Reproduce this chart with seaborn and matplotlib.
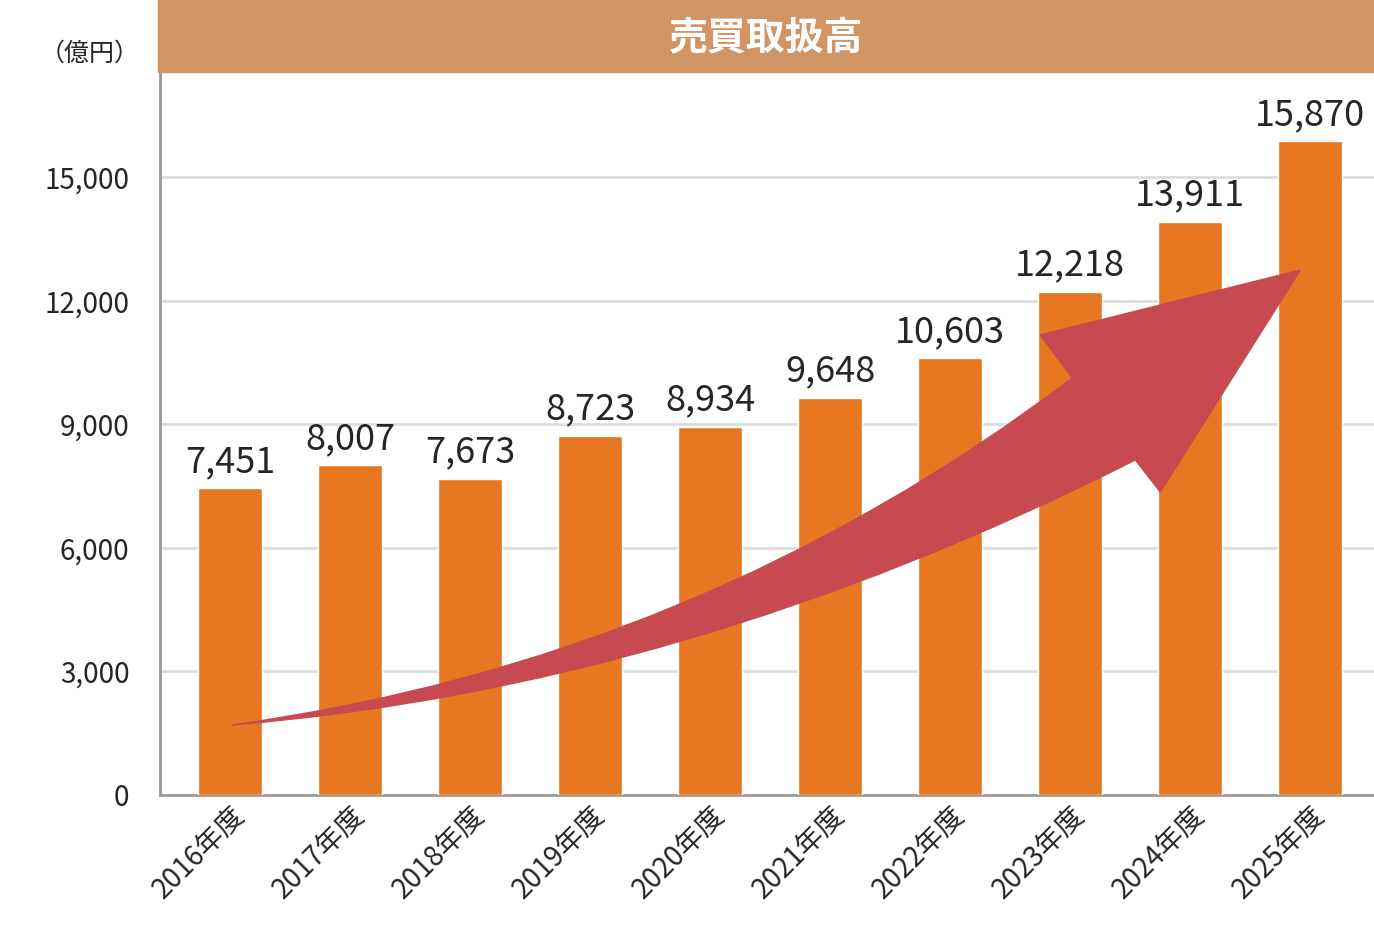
import matplotlib
matplotlib.use("Agg")
import matplotlib.pyplot as plt
import seaborn as sns
import pandas as pd
from matplotlib.patches import Rectangle, PathPatch
from matplotlib.path import Path

years = ["2016年度","2017年度","2018年度","2019年度","2020年度","2021年度","2022年度","2023年度","2024年度","2025年度"]
values = [7451, 8007, 7673, 8723, 8934, 9648, 10603, 12218, 13911, 15870]
yticks = [0, 3000, 6000, 9000, 12000, 15000]

sns.set_theme(style="white")
plt.rcParams['font.family'] = ['Noto Sans CJK JP', 'DejaVu Sans']

fig = plt.figure(figsize=(13.74, 9.25), dpi=100)
ax = fig.add_axes([160/1374, 130/925, 1214/1374, (795-72)/925])
df = pd.DataFrame({"year": years, "value": values})
sns.barplot(data=df, x="year", y="value", color="#e87722", width=0.533, saturation=1, ax=ax, zorder=3)
ax.set_xlim(-0.583, 9.53)
ax.set_ylim(0, 17550)
ax.set_yticks(yticks)
ax.set_yticklabels([f"{v:,}" for v in yticks], fontsize=20)
ax.yaxis.grid(True, color="#dddddd", linewidth=2, zorder=0)
ax.set_axisbelow(True)
ax.tick_params(axis="y", length=18, width=1.5, color="#999999", pad=4)
ax.tick_params(axis="x", length=0, pad=4)
ax.set_xticks(range(len(years)))
ax.set_xticklabels(years, rotation=45, ha="right", rotation_mode="anchor", fontsize=20)
ax.set_xlabel(""); ax.set_ylabel("")
for s in ["top", "right"]:
    ax.spines[s].set_visible(False)
for s in ["left", "bottom"]:
    ax.spines[s].set_color("#999999"); ax.spines[s].set_linewidth(2)
for i, v in enumerate(values):
    ax.text(i, v + 200, f"{v:,}", ha="center", va="bottom", fontsize=26, zorder=5)

# tapered curved arrow (decoration), defined in pixel space and mapped to data
def p(px, py):
    return ((px - 230) / 120, (795 - py) * 17550 / 723)
verts = [p(232, 725), p(700, 660), p(1072, 378), p(1040, 335), p(1300, 270),
         p(1160, 492), p(1135, 460), p(684, 688), p(232, 725), p(232, 725)]
codes = [Path.MOVETO, Path.CURVE3, Path.CURVE3, Path.LINETO, Path.LINETO,
         Path.LINETO, Path.LINETO, Path.CURVE3, Path.CURVE3, Path.CLOSEPOLY]
ax.add_patch(PathPatch(Path(verts, codes), facecolor="#c64a4f", edgecolor="#c64a4f",
                       lw=1, zorder=4))

fig.patches.append(Rectangle((158/1374, (925-72)/925), 1 - 158/1374, 72/925,
                             transform=fig.transFigure, color="#d09465", zorder=0))
fig.text((158 + 1374) / 2 / 1374, 1 - 38/925, "売買取扱高", ha="center", va="center",
         color="white", fontsize=28, fontweight="bold")
fig.text(90/1374, 1 - 54/925, "（億円）", ha="center", va="center", fontsize=18)

fig.savefig("out.png", dpi=100)
